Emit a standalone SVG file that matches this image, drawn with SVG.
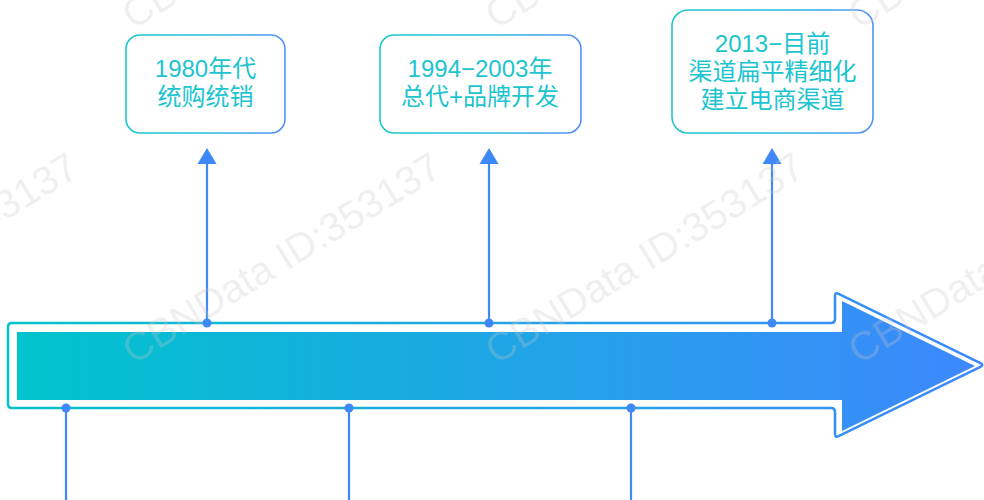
<svg xmlns="http://www.w3.org/2000/svg" width="984" height="500" viewBox="0 0 984 500">
<defs>
<linearGradient id="gFill" x1="0" y1="0" x2="1" y2="0">
<stop offset="0" stop-color="#00c4cc"/>
<stop offset="1" stop-color="#3d88fd"/>
</linearGradient>
<linearGradient id="gLine" gradientUnits="userSpaceOnUse" x1="8" y1="0" x2="984" y2="0">
<stop offset="0" stop-color="#06c2cc"/>
<stop offset="1" stop-color="#3d88fd"/>
</linearGradient>
<linearGradient id="gBox" x1="0" y1="0" x2="1" y2="0">
<stop offset="0" stop-color="#1cc7cc"/>
<stop offset="0.6" stop-color="#28b9dc"/>
<stop offset="1" stop-color="#5590f8"/>
</linearGradient>
<style>
.box{fill:#ffffff;stroke:url(#gBox);stroke-width:1.6}
.lbl{font-family:"Liberation Sans","Noto Sans CJK SC",sans-serif;font-size:24px;fill:#1cc4cf;text-anchor:middle}
.conn{stroke:#3f88f7;stroke-width:2.2;fill:none}
.dot{fill:#3f88f7}
.head{fill:#3f88f7}
.wm{font-family:"Liberation Sans",sans-serif;font-size:40px;fill:#c8c8c8;fill-opacity:0.28}
</style>
</defs>

<g id="timeline-arrow">
<path d="M 12,323 H 831 Q 835,323 835,319 V 296 Q 835,292 838.6,293.8 L 980.4,363.2 Q 984,365 980.4,366.8 L 838.6,436.2 Q 835,438 835,434 V 412 Q 835,408 831,408 H 12 Q 8,408 8,404 V 327 Q 8,323 12,323 Z" fill="#ffffff" stroke="url(#gLine)" stroke-width="2.6"/>
<path d="M 17,332 H 842 V 301 L 975,366 L 842,431 V 400 H 17 Z" fill="url(#gFill)"/>
</g>

<g id="connectors">
<line class="conn" x1="207" y1="323" x2="207" y2="160"/>
<polygon class="head" points="207,148 197.5,164 216.5,164"/>
<circle class="dot" cx="207" cy="323" r="4.5"/>
<line class="conn" x1="489" y1="323" x2="489" y2="160"/>
<polygon class="head" points="489,148 479.5,164 498.5,164"/>
<circle class="dot" cx="489" cy="323" r="4.5"/>
<line class="conn" x1="772" y1="323" x2="772" y2="160"/>
<polygon class="head" points="772,148 762.5,164 781.5,164"/>
<circle class="dot" cx="772" cy="323" r="4.5"/>
<line class="conn" x1="66" y1="408" x2="66" y2="500"/>
<circle class="dot" cx="66" cy="408" r="4.5"/>
<line class="conn" x1="349" y1="408" x2="349" y2="500"/>
<circle class="dot" cx="349" cy="408" r="4.5"/>
<line class="conn" x1="631" y1="408" x2="631" y2="500"/>
<circle class="dot" cx="631" cy="408" r="4.5"/>
</g>

<g id="node-1980">
<rect class="box" x="126" y="35" width="159" height="98" rx="14"/>
<text class="lbl" x="205.5" y="77">1980年代</text>
<text class="lbl" x="205.5" y="105">统购统销</text>
</g>

<g id="node-1994">
<rect class="box" x="380" y="35" width="201" height="98" rx="14"/>
<text class="lbl" x="480" y="77">1994−2003年</text>
<text class="lbl" x="480" y="105">总代+品牌开发</text>
</g>

<g id="node-2013">
<rect class="box" x="672" y="10" width="201" height="123" rx="16"/>
<text class="lbl" x="772.5" y="52">2013−目前</text>
<text class="lbl" x="772.5" y="80">渠道扁平精细化</text>
<text class="lbl" x="772.5" y="108">建立电商渠道</text>
</g>

<g id="watermarks">
<text class="wm" transform="translate(-230,365) rotate(-31.5)">CBNData ID:353137</text>
<text class="wm" transform="translate(133,365) rotate(-31.5)">CBNData ID:353137</text>
<text class="wm" transform="translate(496,365) rotate(-31.5)">CBNData ID:353137</text>
<text class="wm" transform="translate(859,365) rotate(-31.5)">CBNData ID:353137</text>
<text class="wm" transform="translate(133,30) rotate(-31.5)">CBNData ID:353137</text>
<text class="wm" transform="translate(496,30) rotate(-31.5)">CBNData ID:353137</text>
<text class="wm" transform="translate(859,30) rotate(-31.5)">CBNData ID:353137</text>
</g>
</svg>
